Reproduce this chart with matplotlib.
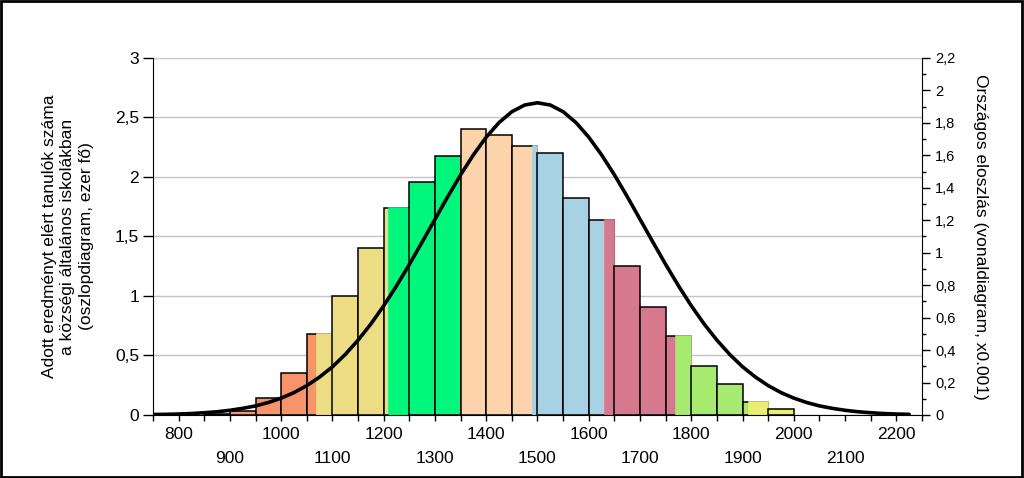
import matplotlib
matplotlib.use('Agg')
import matplotlib.pyplot as plt
import numpy as np

plt.rcParams['font.family'] = ['Liberation Sans', 'DejaVu Sans']

# bars: bin left edges (width 50) and counts (ezer fő)
bin_left = [850, 900, 950, 1000, 1050, 1100, 1150, 1200, 1250, 1300, 1350, 1400,
            1450, 1500, 1550, 1600, 1650, 1700, 1750, 1800, 1850, 1900, 1950]
counts = [0.01, 0.03, 0.14, 0.35, 0.68, 1.00, 1.40, 1.74, 1.96, 2.18, 2.40, 2.35,
          2.26, 2.20, 1.82, 1.64, 1.25, 0.91, 0.66, 0.41, 0.26, 0.11, 0.05]
bin_w = 50

# level boundaries and level colours
level_edges = [1069, 1211, 1350, 1491, 1631, 1771, 1912]
level_colors = ['#F7946A', '#ECDD84', '#00F77C', '#FCD3AA', '#A7D2E3',
                '#D6798F', '#A6EB6F', '#E9EE72']

# national distribution curve (x0.001)
curve_x = [750, 775, 800, 825, 850, 875, 900, 925, 950, 975, 1000, 1025, 1050, 1075,
           1100, 1125, 1150, 1175, 1200, 1225, 1250, 1275, 1300, 1325, 1350, 1375,
           1400, 1425, 1450, 1475, 1500, 1525, 1550, 1575, 1600, 1625, 1650, 1675,
           1700, 1725, 1750, 1775, 1800, 1825, 1850, 1875, 1900, 1925, 1950, 1975,
           2000, 2025, 2050, 2075, 2100, 2125, 2150, 2175, 2200, 2225]
curve_y = [0.003, 0.004, 0.006, 0.009, 0.014, 0.020, 0.029, 0.041, 0.056, 0.077,
           0.104, 0.138, 0.181, 0.234, 0.297, 0.373, 0.461, 0.561, 0.673, 0.796,
           0.928, 1.066, 1.206, 1.346, 1.480, 1.603, 1.712, 1.802, 1.869, 1.910,
           1.924, 1.910, 1.869, 1.802, 1.712, 1.603, 1.480, 1.346, 1.206, 1.066,
           0.928, 0.796, 0.673, 0.561, 0.461, 0.373, 0.297, 0.234, 0.181, 0.138,
           0.104, 0.077, 0.056, 0.041, 0.029, 0.020, 0.014, 0.009, 0.006, 0.004]

fig = plt.figure(figsize=(10.24, 4.78), dpi=100)
ax = fig.add_axes([0.1494, 0.1318, 0.7510, 0.7469])


def level_of(x):
    return int(np.searchsorted(level_edges, x, side='right'))


for left, h in zip(bin_left, counts):
    right = left + bin_w
    cuts = [left] + [e for e in level_edges if left < e < right] + [right]
    ax.bar(left, h, width=bin_w, align='edge', color=level_colors[level_of(left)],
           edgecolor='black', linewidth=1.1, zorder=2)
    for a, b in zip(cuts[1:-1], cuts[2:]):
        c = level_colors[level_of(a)]
        ax.bar(a, h, width=b - a, align='edge', color=c, edgecolor=c,
               linewidth=1.1, zorder=2)

ax.set_xlim(750, 2250)
ax.set_ylim(0, 3)
ax.set_yticks([0, 0.5, 1, 1.5, 2, 2.5, 3])
ax.set_yticklabels(['0', '0,5', '1', '1,5', '2', '2,5', '3'], fontsize=12.5)
ax.yaxis.grid(True, color='#C4C4C4', linewidth=1)
ax.set_axisbelow(True)

xt = list(range(800, 2201, 100))
ax.set_xticks(xt)
ax.set_xticklabels([str(v) for v in xt], fontsize=12.5)
ax.set_xticks(range(750, 2251, 50), minor=True)
ax.tick_params(axis='x', which='both', length=4, width=1, direction='out')
for i, t in enumerate(ax.xaxis.get_major_ticks()):
    t.set_pad(5 if i % 2 == 0 else 22)
ax.tick_params(axis='y', length=7, width=1, direction='out', pad=3)

for s in ['top', 'right']:
    ax.spines[s].set_visible(False)

ax.set_ylabel('Adott eredményt elért tanulók száma\na községi általános iskolákban\n'
              '(oszlopdiagram, ezer fő)', fontsize=12.5, linespacing=1.3, labelpad=15)

ax2 = ax.twinx()
ax2.plot(curve_x, curve_y, color='black', linewidth=2.6, zorder=5,
         solid_capstyle='round')
ax2.set_ylim(0, 2.2)
rt = [0, 0.2, 0.4, 0.6, 0.8, 1, 1.2, 1.4, 1.6, 1.8, 2, 2.2]
ax2.set_yticks(rt)
ax2.set_yticklabels([('%g' % v).replace('.', ',') for v in rt], fontsize=10.5)
ax2.set_yticks(np.arange(0.1, 2.2, 0.2), minor=True)
ax2.tick_params(axis='y', which='major', length=6, width=1)
ax2.tick_params(axis='y', which='minor', length=3, width=1)
for s in ['top', 'left', 'bottom']:
    ax2.spines[s].set_visible(False)
ax2.set_ylabel('Országos eloszlás (vonaldiagram, x0.001)', fontsize=12.5,
               rotation=270, labelpad=23)

fig.patches.append(plt.Rectangle((0.001, 0.002), 0.997, 0.995, transform=fig.transFigure,
                                 fill=False, edgecolor='black', linewidth=2))

fig.savefig('out.png', dpi=100)
